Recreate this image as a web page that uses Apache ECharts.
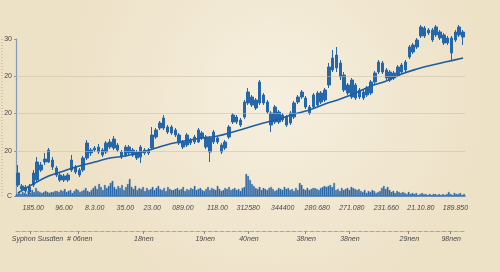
<!DOCTYPE html>
<html><head><meta charset="utf-8">
<script src="https://cdn.jsdelivr.net/npm/echarts@6/dist/echarts.min.js"></script>
<style>html,body{margin:0;padding:0;}#c{width:500px;height:272px;}</style>
</head><body><div id="c"></div>
<script>
// candles: [open, close, low, high]
var candles = [
[4.6,2.2,1.8,6.2],[2.0,1.4,1.0,2.4],[1.0,1.8,0.6,2.2],[0.8,1.8,0.4,2.4],[2.2,4.6,1.8,5.2],
[3.2,6.8,2.8,7.8],[5.2,6.2,4.8,6.8],[6.8,7.4,6.2,8.6],[6.8,9.2,6.6,9.6],[7.2,5.8,5.2,7.8],
[5.6,4.2,3.8,6.0],[4.2,3.2,2.8,4.6],[3.2,4.0,2.8,4.4],[3.2,4.2,2.8,4.6],[5.2,7.2,4.8,8.2],
[5.8,4.8,4.4,6.2],[5.2,4.2,3.8,5.6],[5.2,7.6,4.8,8.0],[7.6,10.6,7.2,11.2],[9.2,8.6,8.0,9.6],
[9.2,9.6,8.8,10.0],[8.8,9.8,8.4,10.4],[9.2,8.2,7.8,9.6],[8.8,10.6,8.4,11.0],[9.8,10.8,9.4,11.4],
[9.6,11.4,9.2,12.0],[10.2,9.2,8.8,10.6],[8.8,7.8,7.4,9.2],[8.2,9.8,7.8,10.2],[9.8,8.6,8.2,10.2],
[9.2,8.2,7.8,9.6],[8.8,7.6,7.2,9.2],[7.8,9.8,6.6,10.2],[9.2,8.6,8.2,9.6],[8.6,9.2,8.2,9.6],
[9.6,12.2,9.2,13.8],[11.8,13.2,11.4,13.6],[13.6,14.6,13.2,15.0],[13.6,15.6,13.2,16.2],[13.8,12.8,12.4,14.2],
[13.8,12.6,12.2,14.2],[13.2,12.2,11.8,13.6],[12.2,10.6,10.2,12.6],[10.8,9.8,9.4,11.2],[10.2,12.2,9.8,12.6],
[11.2,10.6,10.2,11.6],[10.8,11.8,10.4,12.2],[10.8,13.2,10.6,13.6],[12.6,11.6,11.2,13.0],[11.8,9.8,9.4,12.2],
[8.8,11.6,6.8,12.0],[10.8,12.8,10.4,13.2],[11.6,10.8,10.4,12.0],[10.2,8.8,8.4,10.6],[9.6,10.8,9.2,11.2],
[11.8,13.8,11.4,14.2],[14.8,16.2,14.4,16.6],[15.8,14.8,14.4,16.2],[15.2,14.2,13.8,15.6],[15.8,18.8,15.4,19.2],
[18.6,20.8,18.2,21.6],[19.8,18.2,17.8,20.2],[19.2,17.6,17.2,19.6],[18.6,22.8,18.2,23.2],[20.2,18.6,18.2,20.6],
[18.8,16.8,16.4,19.2],[16.6,14.2,12.8,17.0],[14.8,17.8,14.4,18.2],[16.8,14.8,14.4,17.2],[16.2,15.2,14.8,16.6],
[15.8,14.2,13.8,16.2],[14.6,16.6,14.2,17.0],[15.8,18.6,15.4,19.0],[18.8,19.8,18.4,20.2],[19.8,20.8,19.4,21.2],
[19.6,17.8,17.4,20.0],[17.8,16.6,16.2,18.2],[17.8,20.2,17.4,20.6],[20.6,18.2,17.8,21.0],[18.8,20.6,18.4,21.0],
[19.2,21.2,18.8,21.6],[22.2,25.8,21.6,26.6],[25.2,27.6,24.8,29.2],[28.2,25.6,24.8,29.8],[26.6,23.8,23.2,27.2],
[24.2,21.2,20.8,24.8],[22.2,20.6,20.2,22.6],[19.8,23.2,19.4,23.6],[22.2,19.6,19.2,22.6],[21.2,19.8,19.4,21.6],
[19.6,20.8,19.2,21.2],[20.2,21.6,19.8,22.0],[20.6,22.8,20.2,23.2],[22.8,24.6,22.4,25.0],[24.8,26.8,24.4,27.2],
[26.6,24.8,24.4,27.0],[25.2,23.6,23.2,25.6],[24.8,23.2,22.8,25.2],[23.6,24.6,23.2,25.0],[24.2,25.8,23.8,26.2],
[24.8,26.2,24.4,26.6],[25.2,26.8,24.8,27.2],[27.8,29.8,27.4,30.2],[28.8,30.2,28.4,30.6],[29.8,31.2,29.4,31.6],
[32.0,33.8,31.6,34.2],[33.6,32.0,31.6,34.0],[33.2,32.6,32.2,33.6],[33.2,31.2,30.8,33.6],[32.2,33.8,31.8,34.2],
[32.8,31.6,31.2,33.2],[32.2,30.6,30.2,32.6],[31.6,30.6,30.2,32.0],[31.6,28.6,27.2,32.0],[31.2,32.8,30.8,33.2],
[32.2,33.8,31.8,34.2],[32.8,31.8,30.2,33.2]
];
// trend line sampled every 4 candles (null = not read)
var trendSamples = {0:0.6,4:2.4,8:4.0,12:5.0,16:6.0,20:6.8,24:7.6,28:8.0,32:8.7,36:9.6,40:10.5,44:11.1,48:11.6,52:12.0,56:12.8,60:13.7,64:14.6,68:15.4,72:16.4,76:17.2,80:18.4,84:19.4,88:20.6,92:22.0,96:23.0,100:24.4,104:25.4,108:26.2,112:26.9,116:27.6};
var volumes = [2,3,2,4,3,2,5, 3,6,4,8,5, 4,3,4,5,4,3,4,4,5,
5,4,6,5,7,4,5,6,3,5,7,6,4,5,6,8,5,4,6,
8,10,7,12,9,6,11,8,10,13,15,9, 7,10,8,11,6,9,12, 17,
9,7,10,6,8,7,9,5,8,6,7,9,6,8,10,7,6,8,5,9,7,6,
6,7,8,6,7,9,5,7,6,8,7,10,6,7,8,6,5,7,9,6,8,7,6,10,7,5,6,8,7,9,6,7,8,6,7,5,8,9,
22,20,16,12,10,
8,7,9,6,8,7,6,8,9,7,5,6,8,7,6,9,7,8,6,7,5,8,6,
13,11, 7,6,8,6,7,8, 8,7,6,8,9, 10,9,10,11,9, 13,
6,7,5,8,6,7,8,6,9,8,7,6,7, 5,4,6,3,5,4,6,5,3,4,5, 8,10,7,9,6, 4,5,3,5,4,3,4,
3,2,4,2,3,2,3,1,2,3,2, 2,1,2,1,2,2,1,2,1,2,1,2, 4, 2,1,3,2,2,3,1,2];
var xTickIndex = [4,12,20,28,35,43,52,60,69,78,87,96,105,114];
var xTickLabels = ['185.00','96.00','8.3.00','35.00','23.00','089.00','118.00','312580','344400','280.680','271.080','231.660','21.10.80','189.850'];
var yTickValues = [0,9,16.6,24,31.4];
var yTickLabels = ['C','20','20','20','30'];
var gridLineValues = [9,16.6,24];
var x2TickValues = [3.1,15.8,32.6,48.6,60,74.9,86.3,101.8,112.7];
var x2LabelValues = [8.9,32.8,48.8,60.2,75.1,86.5,102,112.9];
var x2TickLabels = ['Syphon Susdten  # 06nen','18nen','19nen','40nen','38nen','38nen','29nen','98nen'];

var cats = candles.map(function(_, i){ return 'c' + i; });
var trend = candles.map(function(_, i){ return trendSamples.hasOwnProperty(i) ? trendSamples[i] : null; });
var volCats = volumes.map(function(_, i){ return 'v' + i; });
var xLabelMap = {}; xTickIndex.forEach(function(ix, k){ xLabelMap[ix] = xTickLabels[k]; });
var yLabelMap = {}; yTickValues.forEach(function(v, k){ yLabelMap[v] = yTickLabels[k]; });
var x2LabelMap = {}; x2LabelValues.forEach(function(v, k){ x2LabelMap[v] = x2TickLabels[k]; });
var showIdx = function(index){ return xLabelMap.hasOwnProperty(index); };

var FONT = "'Liberation Sans Narrow', 'Liberation Sans', sans-serif";
var BLUE = '#2467aa';
var chart = echarts.init(document.getElementById('c'), null, {renderer:'canvas'});
chart.setOption({
  animation: false,
  backgroundColor: {type:'radial', x:0.55, y:0.35, r:0.8, colorStops:[{offset:0,color:'#f6efdf'},{offset:1,color:'#ede1c6'}]},
  graphic: [{type:'line', shape:{x1:2,y1:39,x2:2,y2:196}, style:{stroke:'#b9ab92', lineDash:[1,2], lineWidth:1}, silent:true}],
  grid: [
    {left:16, right:35, top:39, bottom:76},
    {left:16, right:35, top:166, bottom:76},
    {left:16, right:35, top:230, height:1}
  ],
  xAxis: [
    {type:'category', gridIndex:0, data:cats, boundaryGap:true,
     axisLine:{lineStyle:{color:'#3a74b2', width:1.5}},
     axisTick:{interval:showIdx, alignWithLabel:true, length:4, lineStyle:{color:'#3a74b2'}},
     axisLabel:{interval:showIdx, formatter:function(v, i){ return xLabelMap[i] || ''; }, fontSize:7, fontStyle:'italic', color:'#4a4a4a', margin:9, fontFamily:FONT},
     splitLine:{show:false}, z:5},
    {type:'category', gridIndex:1, data:volCats, boundaryGap:true, show:false},
    {type:'value', gridIndex:2, min:-0.5, max:116.5,
     axisLine:{show:true, lineStyle:{color:'#aea796', type:'dashed', width:1}},
     axisTick:{show:true, customValues:x2TickValues, length:3, inside:false, lineStyle:{color:'#8f897c'}},
     axisLabel:{customValues:x2LabelValues, hideOverlap:false, formatter:function(v){ return x2LabelMap[v] || ''; }, fontSize:7, fontStyle:'italic', color:'#4a4a4a', margin:5, fontFamily:FONT},
     splitLine:{show:false}}
  ],
  yAxis: [
    {type:'value', gridIndex:0, min:0, max:31.4,
     axisLine:{show:true, lineStyle:{color:'#7f9aba', width:1.2}},
     axisTick:{show:true, customValues:yTickValues, length:2, lineStyle:{color:'#7f9aba'}},
     axisLabel:{customValues:yTickValues, formatter:function(v){ return yLabelMap[v] || ''; }, fontSize:7, color:'#4a4a4a', margin:4, fontFamily:FONT},
     splitLine:{show:false}},
    {type:'value', gridIndex:1, min:0, max:30, show:false, splitLine:{show:false}},
    {type:'value', gridIndex:2, min:0, max:1, show:false, splitLine:{show:false}}
  ],
  series: [
    {type:'bar', xAxisIndex:1, yAxisIndex:1, data:volumes, barCategoryGap:'15%',
     itemStyle:{color:'#2c6cb0', borderColor:'#1f5a98', borderWidth:0.3}, z:2},
    {type:'candlestick', xAxisIndex:0, yAxisIndex:0, data:candles, clip:false, barWidth:3,
     itemStyle:{color:BLUE, color0:BLUE, borderColor:BLUE, borderColor0:BLUE, borderWidth:1},
     markLine:{silent:true, symbol:'none', label:{show:false},
       lineStyle:{color:'rgba(205,190,165,0.55)', type:'solid', width:1},
       data: gridLineValues.map(function(v){ return {yAxis:v}; })}, z:3},
    {type:'line', xAxisIndex:0, yAxisIndex:0, data:trend, connectNulls:true, smooth:0.4, symbol:'none',
     lineStyle:{color:'#1f5d9e', width:1.6}, z:4},
    {type:'line', xAxisIndex:2, yAxisIndex:2, data:[], symbol:'none'}
  ]
});
</script></body></html>
